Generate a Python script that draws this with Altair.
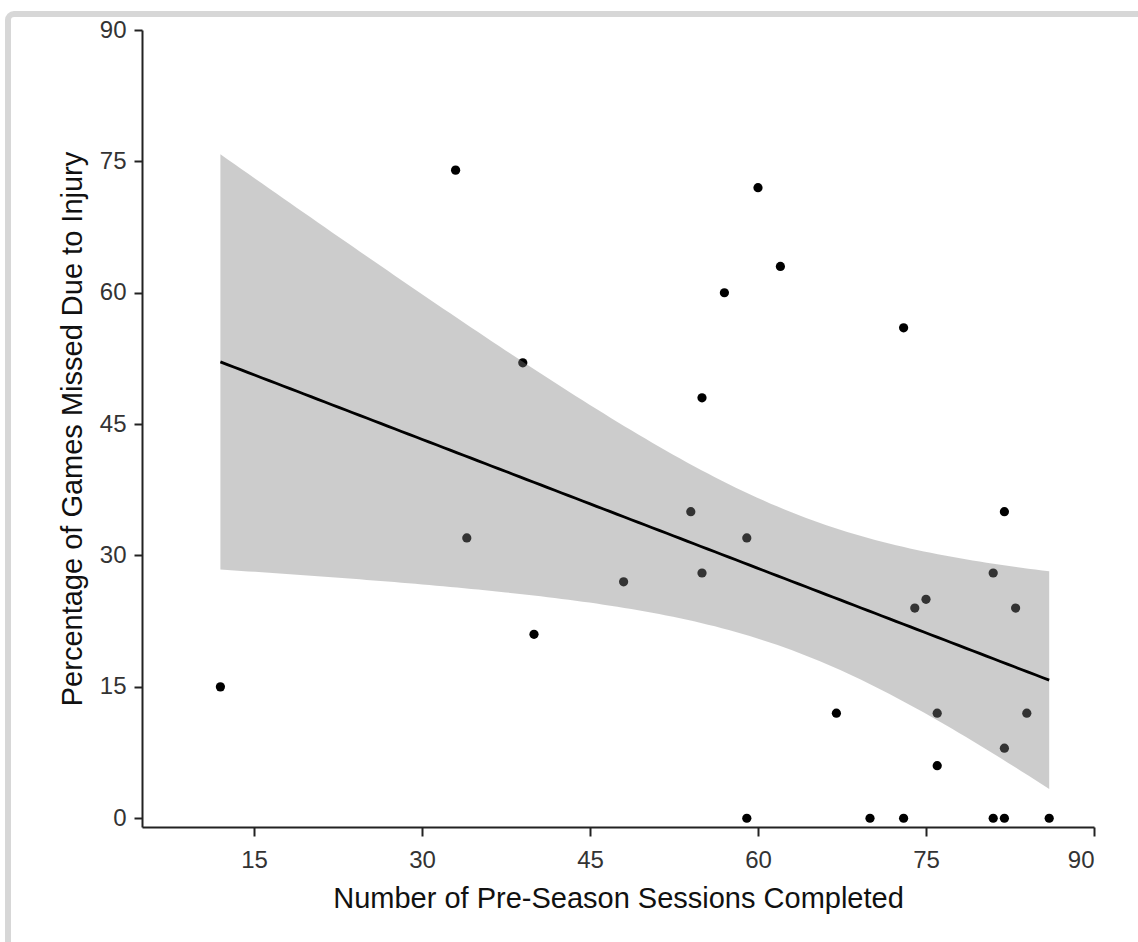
import altair as alt
import numpy as np
import pandas as pd

# Data
sessions = [12, 33, 34, 39, 40, 48, 54, 55, 55, 57, 59, 59, 60, 62, 67,
            70, 73, 73, 74, 75, 76, 76, 81, 81, 82, 82, 82, 83, 84, 86]
missed = [15, 74, 32, 52, 21, 27, 35, 48, 28, 60, 32, 0, 72, 63, 12,
          0, 56, 0, 24, 25, 12, 6, 28, 0, 35, 8, 0, 24, 12, 0]
x_ticks = [15, 30, 45, 60, 75, 90]
y_ticks = [0, 15, 30, 45, 60, 75, 90]

pts = pd.DataFrame({"sessions": sessions, "missed": missed})

# Linear fit with 95% confidence band, computed from the points
x = np.array(sessions, dtype=float)
y = np.array(missed, dtype=float)
n = len(x)
b1, b0 = np.polyfit(x, y, 1)
resid = y - (b0 + b1 * x)
s = np.sqrt((resid ** 2).sum() / (n - 2))
sxx = ((x - x.mean()) ** 2).sum()
t_crit = 2.0484  # t(0.975, df=28)
grid = np.linspace(x.min(), x.max(), 120)
fit = b0 + b1 * grid
se = s * np.sqrt(1.0 / n + (grid - x.mean()) ** 2 / sxx)
band = pd.DataFrame({"sessions": grid, "fit": fit,
                     "lo": fit - t_crit * se, "hi": fit + t_crit * se})

FONT = "Liberation Sans"

xscale = alt.Scale(domain=[5, 90], nice=False, zero=False)
yscale = alt.Scale(domain=[-1, 90], nice=False, zero=False)

xaxis = alt.Axis(values=x_ticks, title="Number of Pre-Season Sessions Completed",
                 grid=False, tickSize=9, labelPadding=12, titlePadding=12)
yaxis = alt.Axis(values=y_ticks, title="Percentage of Games Missed Due to Injury",
                 grid=False, tickSize=8, labelPadding=8, titlePadding=12)

points = alt.Chart(pts).mark_point(filled=True, color="black", size=85, opacity=1).encode(
    x=alt.X("sessions:Q", scale=xscale, axis=xaxis),
    y=alt.Y("missed:Q", scale=yscale, axis=yaxis),
)

area = alt.Chart(band).mark_area(color="#808080", opacity=0.4).encode(
    x=alt.X("sessions:Q", scale=xscale),
    y=alt.Y("lo:Q", scale=yscale),
    y2="hi:Q",
)

line = alt.Chart(band).mark_line(color="black", strokeWidth=2.8).encode(
    x=alt.X("sessions:Q", scale=xscale),
    y=alt.Y("fit:Q", scale=yscale),
)

frame = alt.Chart(pd.DataFrame({"k": [0]})).mark_rect(
    fill=None, stroke="#d7d7d7", strokeWidth=6, cornerRadius=6
).encode(
    x=alt.value(-134), x2=alt.value(1100),
    y=alt.value(-16), y2=alt.value(1000),
)

chart = alt.layer(frame, points, area, line).properties(
    width=952, height=797,
    autosize=alt.AutoSizeParams(type="none"),
    padding={"left": 142, "top": 30, "right": 44, "bottom": 115},
    background="white",
).configure_view(stroke=None).configure_axis(
    domainColor="#222", domainWidth=2, tickColor="#222", tickWidth=2,
    labelFont=FONT, labelFontSize=24, labelColor="#333",
    titleFont=FONT, titleFontSize=29, titleFontWeight="normal", titleColor="#111",
)

chart.save("out.html", embed_options={"renderer": "svg", "actions": False})
